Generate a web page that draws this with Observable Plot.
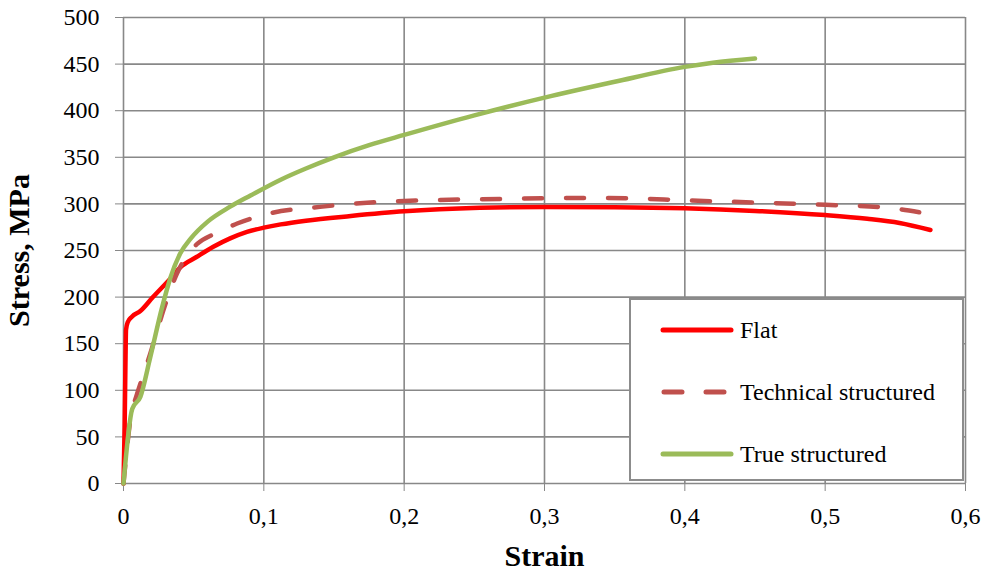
<!DOCTYPE html>
<html><head><meta charset="utf-8">
<script src="https://cdn.jsdelivr.net/npm/d3@7"></script>
<script src="https://cdn.jsdelivr.net/npm/@observablehq/plot@0.6"></script>
<style>
body{margin:0;background:#fff;}
#wrap{position:relative;width:990px;height:571px;font-family:"Liberation Serif","Times New Roman",serif;}
#wrap svg, #wrap svg text{font-family:"Liberation Serif","Times New Roman",serif !important;}
g[aria-label="x-axis label"] text, g[aria-label="y-axis label"] text{font-size:30px;font-weight:bold;fill:#000;}
#legend{position:absolute;left:629px;top:298px;width:335px;height:183px;box-sizing:border-box;border:2px solid #8c8c8c;background:#fff;}
.row{position:absolute;left:0;height:30px;display:flex;align-items:center;font-size:24px;color:#000;}
.row svg{margin-left:29px;margin-right:6px;}
</style></head>
<body><div id="wrap"></div>
<script>
// Tick values
const xTicks = [0, 0.1, 0.2, 0.3, 0.4, 0.5, 0.6];
const yTicks = [0, 50, 100, 150, 200, 250, 300, 350, 400, 450, 500];

// Series names & styles
const seriesNames = ["Flat", "Technical structured", "True structured"];
const seriesColors = ["#ff0000", "#c0504d", "#9bbb59"];
const seriesDash = [null, "18,24", null];

// Flat
const flatStrain = [0, 0.0008, 0.0014, 0.0018, 0.003, 0.006, 0.012, 0.021, 0.0335, 0.0405, 0.052, 0.064, 0.076, 0.088, 0.1, 0.112, 0.13, 0.162, 0.2, 0.254, 0.3, 0.35, 0.4, 0.45, 0.5, 0.53, 0.553, 0.575];
const flatStress = [0, 60, 130, 165, 173, 179, 185, 200, 220, 232, 243, 254, 263, 270, 274.5, 278, 282, 287, 292, 295.8, 296.8, 296.5, 295.3, 292.5, 288, 284, 279.5, 272];

// Technical structured
const techStrain = [0, 0.006, 0.0086, 0.019, 0.03, 0.038, 0.045, 0.0525, 0.065, 0.081, 0.105, 0.14, 0.176, 0.219, 0.269, 0.326, 0.36, 0.4, 0.45, 0.5, 0.54, 0.567];
const techStress = [0, 78, 91, 139, 193, 225, 244, 257, 268, 279, 290, 296.8, 301.5, 304, 305.3, 306.4, 306, 303.8, 301.5, 299, 296.5, 291];

// True structured
const trueStrain = [0, 0.0062, 0.012, 0.019, 0.0275, 0.0335, 0.0405, 0.048, 0.06, 0.076, 0.0905, 0.112, 0.13, 0.15, 0.175, 0.2, 0.25, 0.3, 0.35, 0.4, 0.42, 0.45];
const trueStress = [0, 80, 93, 135, 189, 221, 247, 263, 281, 297, 309, 326, 338, 350, 363, 374, 395, 414, 431, 447, 451.5, 456];

const strains = [flatStrain, techStrain, trueStrain];
const stresses = [flatStress, techStress, trueStress];
const data = seriesNames.map((name, i) => strains[i].map((x, j) => ({series: name, x, y: stresses[i][j]})));

const fmt = d => String(d).replace(".", ",");

const plot = Plot.plot({
  width: 990,
  height: 571,
  marginLeft: 123,
  marginRight: 25,
  marginTop: 17,
  marginBottom: 88,
  style: {fontFamily: '"Liberation Serif","Times New Roman",serif', fontSize: "24px", color: "#000", background: "#fff"},
  x: {domain: [0, 0.6]},
  y: {domain: [0, 500]},
  marks: [
    Plot.gridX(xTicks, {stroke: "#888", strokeOpacity: 1, strokeWidth: 1.6}),
    Plot.gridY(yTicks, {stroke: "#888", strokeOpacity: 1, strokeWidth: 1.6}),
    Plot.axisX(xTicks, {tickFormat: fmt, tickSize: 8, tickPadding: 15, stroke: "#888", fill: "#000", fontSize: 24,
      label: "Strain", labelAnchor: "center", labelArrow: false, labelOffset: 82}),
    Plot.axisY(yTicks, {tickSize: 8, tickPadding: 16, stroke: "#888", fill: "#000", fontSize: 24,
      label: "Stress, MPa", labelAnchor: "center", labelArrow: false, labelOffset: 116}),
    ...data.map((d, i) => Plot.line(d, {x: "x", y: "y", stroke: seriesColors[i], strokeWidth: 4.5,
      strokeDasharray: seriesDash[i] ?? undefined, strokeLinecap: "round", strokeLinejoin: "round", curve: "monotone-x"}))
  ]
});
const wrap = document.getElementById("wrap");
wrap.appendChild(plot);

// Legend
const legend = document.createElement("div");
legend.id = "legend";
const rowTops = [15, 77, 139];
seriesNames.forEach((name, i) => {
  const row = document.createElement("div");
  row.className = "row";
  row.style.top = rowTops[i] + "px";
  const dash = seriesDash[i] ? `stroke-dasharray="18,24" stroke-dashoffset="-1"` : "";
  row.innerHTML = `<svg width="74" height="10"><line x1="3" y1="5" x2="71" y2="5" stroke="${seriesColors[i]}" stroke-width="5" stroke-linecap="round" ${dash}/></svg><span>${name}</span>`;
  legend.appendChild(row);
});
wrap.appendChild(legend);
</script>
</body></html>
